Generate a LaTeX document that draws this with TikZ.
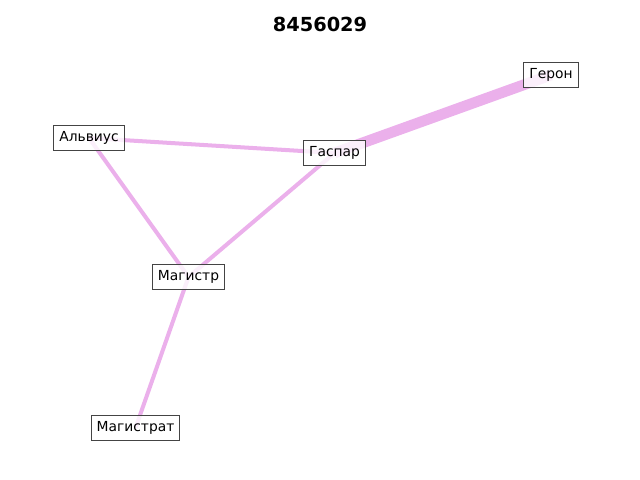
\documentclass[tikz,border=0pt]{standalone}
\usepackage{fontspec}
\setmainfont{DejaVu Sans}
\usetikzlibrary{backgrounds}
\definecolor{edgepink}{HTML}{EBB0EB}
\definecolor{boxline}{HTML}{444444}
\tikzset{
  person/.style={
    rectangle, draw=boxline, line width=0.8pt,
    fill=white, fill opacity=0.8, text opacity=1,
    font=\fontsize{10}{12}\selectfont,
    inner xsep=4pt, inner ysep=4.4pt,
    text height=7.5pt, text depth=2.3pt
  },
  tie/.style={draw=edgepink, line width=2.9pt},
  strongtie/.style={draw=edgepink, line width=7.8pt},
  titlelabel/.style={font=\fontsize{14}{16}\selectfont\bfseries}
}
\begin{document}
\begin{tikzpicture}[x=0.0254cm, y=-0.0254cm]
  \useasboundingbox (0,0) rectangle (640,480);

  \node[titlelabel] (title) at (320,24) {8456029};

  \node[person] (geron)     at (551,75)  {Герон};
  \node[person] (alvius)    at (89,138)  {Альвиус};
  \node[person] (gaspar)    at (334.5,153) {Гаспар};
  \node[person] (magistr)   at (188.5,277) {Магистр};
  \node[person] (magistrat) at (135.5,428) {Магистрат};

  % Edges
  \begin{scope}[on background layer]
    \draw[strongtie] (gaspar.center) -- (geron.center);
    \draw[tie] (alvius.center) -- (gaspar.center);
    \draw[tie] (alvius.center) -- (magistr.center);
    \draw[tie] (gaspar.center) -- (magistr.center);
    \draw[tie] (magistr.center) -- (magistrat.center);
  \end{scope}
\end{tikzpicture}
\end{document}
